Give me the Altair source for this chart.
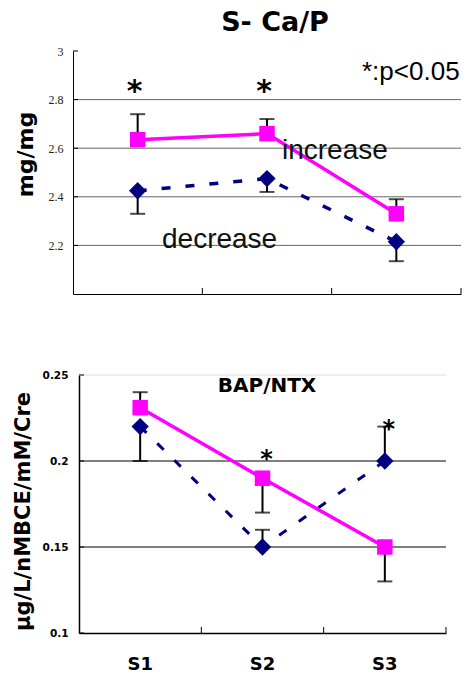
import altair as alt
import pandas as pd

# ---------------- data ----------------
categories = ["S1", "S2", "S3"]

# S- Ca/P (mg/mg)
ca_increase = [2.635, 2.66, 2.33]
ca_increase_err = [2.74, 2.72, 2.39]
ca_decrease = [2.425, 2.475, 2.215]
ca_decrease_err = [2.33, 2.42, 2.135]
ca_grid = [2.2, 2.4, 2.6, 2.8]
ca_ticks = [2.2, 2.4, 2.6, 2.8, 3.0]
ca_star_cats = ["S1", "S2"]
ca_star_y = [2.86, 2.86]

# BAP/NTX
bap_increase = [0.231, 0.19, 0.15]
bap_increase_err = [0.24, 0.17, 0.13]
bap_decrease = [0.22, 0.15, 0.20]
bap_decrease_err = [0.20, 0.16, 0.22]
bap_grid = [0.15, 0.2]
bap_top = [0.25]
bap_ticks = [0.1, 0.15, 0.2, 0.25]
bap_star_cats = ["S2", "S3"]
bap_star_y = [0.204, 0.2215]

title_top = ["S- Ca/P"]
ytitle_top = "mg/mg"
ytitle_bottom = "µg/L/nMBCE/mM/Cre"
note_sig = ["*:p<0.05"]
note_inc = ["increase"]
note_dec = ["decrease"]
note_bap = ["BAP/NTX"]

PINK = "#FF00FF"
NAVY = "#000080"

# ---------------- top panel ----------------
TW, TH = 388, 243
top_df = pd.DataFrame({"cat": categories, "inc": ca_increase, "inc_err": ca_increase_err,
                       "dec": ca_decrease, "dec_err": ca_decrease_err})
ytop = alt.Scale(domain=[2.0, 3.0], nice=False, zero=False)
xtop = alt.Scale(domain=categories, paddingInner=0, paddingOuter=0)
xenc_t = alt.X("cat:N", scale=xtop, axis=None)

t_grid = alt.Chart(pd.DataFrame({"v": ca_grid})).mark_rule(color="#666666", strokeWidth=1).encode(
    y=alt.Y("v:Q", scale=ytop, axis=alt.Axis(
        values=ca_ticks, format="~g", ticks=False, grid=False, domainColor="black", domainWidth=1,
        labelFont="Liberation Sans Narrow", labelFontSize=12, labelColor="#222", labelPadding=10,
        title=ytitle_top, titleFont="DejaVu Sans", titleFontSize=22, titleFontWeight="bold",
        titleAngle=270, titleAlign="center", titleBaseline="middle", titleX=-48, titleY=103,
        titleColor="black")),
    x=alt.value(0), x2=alt.value(TW))
t_yt = alt.Chart(pd.DataFrame({"v": ca_ticks})).mark_rule(color="black", strokeWidth=1).encode(
    y=alt.Y("v:Q", scale=ytop, axis=None), x=alt.value(0), x2=alt.value(5))
t_xt = alt.Chart(top_df).mark_rule(color="black", strokeWidth=1).encode(
    x=alt.X("cat:N", scale=xtop, bandPosition=1, axis=alt.Axis(
        labels=False, ticks=False, title=None, domainColor="black", domainWidth=1)),
    y=alt.value(TH - 6), y2=alt.value(TH))
t_err_i = alt.Chart(top_df).mark_rule(color="black", strokeWidth=2).encode(
    x=xenc_t, y=alt.Y("inc:Q", scale=ytop, axis=None), y2="inc_err:Q")
t_cap_i = alt.Chart(top_df).mark_tick(color="black", size=15, thickness=2).encode(
    x=xenc_t, y=alt.Y("inc_err:Q", scale=ytop, axis=None))
t_err_d = alt.Chart(top_df).mark_rule(color="black", strokeWidth=2).encode(
    x=xenc_t, y=alt.Y("dec:Q", scale=ytop, axis=None), y2="dec_err:Q")
t_cap_d = alt.Chart(top_df).mark_tick(color="black", size=15, thickness=2).encode(
    x=xenc_t, y=alt.Y("dec_err:Q", scale=ytop, axis=None))
t_line_d = alt.Chart(top_df).mark_line(color=NAVY, strokeWidth=3.5, strokeDash=[9, 15]).encode(
    x=xenc_t, y=alt.Y("dec:Q", scale=ytop, axis=None))
t_line_i = alt.Chart(top_df).mark_line(color=PINK, strokeWidth=3.5).encode(
    x=xenc_t, y=alt.Y("inc:Q", scale=ytop, axis=None))
t_pt_d = alt.Chart(top_df).mark_point(shape="diamond", filled=True, size=300, color=NAVY, opacity=1).encode(
    x=xenc_t, y=alt.Y("dec:Q", scale=ytop, axis=None))
t_pt_i = alt.Chart(top_df).mark_point(shape="square", filled=True, size=240, color=PINK, opacity=1).encode(
    x=xenc_t, y=alt.Y("inc:Q", scale=ytop, axis=None))
t_star = alt.Chart(pd.DataFrame({"cat": ca_star_cats, "y": ca_star_y})).mark_text(
    text="*", font="DejaVu Sans", fontSize=30, fontWeight="bold", color="black",
    baseline="alphabetic", dy=16, dx=-3).encode(x=xenc_t, y=alt.Y("y:Q", scale=ytop, axis=None))
t_sig = alt.Chart(pd.DataFrame({"t": note_sig})).mark_text(
    font="Liberation Sans", fontSize=26, align="left", baseline="alphabetic", color="black").encode(
    text="t:N", x=alt.value(289), y=alt.value(29))
t_inc = alt.Chart(pd.DataFrame({"t": note_inc})).mark_text(
    font="Liberation Sans", fontSize=28, align="left", baseline="alphabetic", color="#111").encode(
    text="t:N", x=alt.value(209), y=alt.value(108))
t_dec = alt.Chart(pd.DataFrame({"t": note_dec})).mark_text(
    font="Liberation Sans", fontSize=28, align="left", baseline="alphabetic", color="#111").encode(
    text="t:N", x=alt.value(89), y=alt.value(197))
t_title = alt.Chart(pd.DataFrame({"t": title_top})).mark_text(
    font="DejaVu Sans", fontSize=27, fontWeight="bold", align="center", baseline="alphabetic",
    color="black").encode(text="t:N", x=alt.value(202), y=alt.value(-20))

top = alt.layer(t_grid, t_yt, t_xt, t_err_i, t_cap_i, t_err_d, t_cap_d, t_line_d, t_line_i,
                t_pt_d, t_pt_i, t_star, t_sig, t_inc, t_dec, t_title).resolve_axis(
    x="independent", y="independent").properties(width=TW, height=TH)

# ---------------- bottom panel ----------------
BW, BH, SH = 373, 258, 6
bot_df = pd.DataFrame({"cat": categories, "inc": bap_increase, "inc_err": bap_increase_err,
                       "dec": bap_decrease, "dec_err": bap_decrease_err})
ybot = alt.Scale(domain=[0.1, 0.25], nice=False, zero=False)
xbot = alt.Scale(domain=categories, range=[SH, BW], paddingInner=0, paddingOuter=0)
xenc_b = alt.X("cat:N", scale=xbot, axis=None)

b_top = alt.Chart(pd.DataFrame({"v": bap_top})).mark_rule(color="#dddddd", strokeWidth=1).encode(
    y=alt.Y("v:Q", scale=ybot, axis=None), x=alt.value(SH), x2=alt.value(BW))
b_grid = alt.Chart(pd.DataFrame({"v": bap_grid})).mark_rule(color="black", strokeWidth=1).encode(
    y=alt.Y("v:Q", scale=ybot, axis=alt.Axis(
        values=bap_ticks, format="~g", ticks=False, grid=False, offset=-SH, domainColor="black",
        domainWidth=1.5,
        labelFont="DejaVu Sans", labelFontSize=10.5, labelFontWeight="bold", labelColor="black",
        labelPadding=11,
        title=ytitle_bottom, titleFont="DejaVu Sans", titleFontSize=21, titleFontWeight="bold",
        titleAngle=270, titleAlign="center", titleBaseline="middle", titleX=-56, titleY=136,
        titleColor="black")),
    x=alt.value(SH), x2=alt.value(BW))
b_yt = alt.Chart(pd.DataFrame({"v": bap_ticks})).mark_rule(color="black", strokeWidth=1).encode(
    y=alt.Y("v:Q", scale=ybot, axis=None), x=alt.value(SH), x2=alt.value(SH + 5))
b_xt = alt.Chart(bot_df).mark_rule(color="black", strokeWidth=1).encode(
    x=alt.X("cat:N", scale=xbot, bandPosition=1, axis=alt.Axis(
        ticks=False, title=None, domainColor="black", domainWidth=1.5, labelAngle=0,
        labelFont="DejaVu Sans", labelFontSize=18, labelFontWeight="bold", labelColor="black",
        labelPadding=22)),
    y=alt.value(BH - 6), y2=alt.value(BH))
b_err_i = alt.Chart(bot_df).mark_rule(color="black", strokeWidth=2).encode(
    x=xenc_b, y=alt.Y("inc:Q", scale=ybot, axis=None), y2="inc_err:Q")
b_cap_i = alt.Chart(bot_df).mark_tick(color="black", size=15, thickness=2).encode(
    x=xenc_b, y=alt.Y("inc_err:Q", scale=ybot, axis=None))
b_err_d = alt.Chart(bot_df).mark_rule(color="black", strokeWidth=2).encode(
    x=xenc_b, y=alt.Y("dec:Q", scale=ybot, axis=None), y2="dec_err:Q")
b_cap_d = alt.Chart(bot_df).mark_tick(color="black", size=15, thickness=2).encode(
    x=xenc_b, y=alt.Y("dec_err:Q", scale=ybot, axis=None))
b_line_d = alt.Chart(bot_df).mark_line(color=NAVY, strokeWidth=3, strokeDash=[9, 15]).encode(
    x=xenc_b, y=alt.Y("dec:Q", scale=ybot, axis=None))
b_line_i = alt.Chart(bot_df).mark_line(color=PINK, strokeWidth=3.5).encode(
    x=xenc_b, y=alt.Y("inc:Q", scale=ybot, axis=None))
b_pt_d = alt.Chart(bot_df).mark_point(shape="diamond", filled=True, size=300, color=NAVY, opacity=1).encode(
    x=xenc_b, y=alt.Y("dec:Q", scale=ybot, axis=None))
b_pt_i = alt.Chart(bot_df).mark_point(shape="square", filled=True, size=240, color=PINK, opacity=1).encode(
    x=xenc_b, y=alt.Y("inc:Q", scale=ybot, axis=None))
b_star = alt.Chart(pd.DataFrame({"cat": bap_star_cats, "y": bap_star_y})).mark_text(
    text="*", font="DejaVu Sans", fontSize=24, fontWeight="bold", color="black",
    baseline="alphabetic", dy=13, dx=4).encode(x=xenc_b, y=alt.Y("y:Q", scale=ybot, axis=None))
b_lab = alt.Chart(pd.DataFrame({"t": note_bap})).mark_text(
    font="DejaVu Sans", fontSize=20, fontWeight="bold", align="center", baseline="alphabetic",
    color="black").encode(text="t:N", x=alt.value(194), y=alt.value(17))

bottom = alt.layer(b_top, b_grid, b_yt, b_xt, b_err_i, b_cap_i, b_err_d, b_cap_d, b_line_d,
                   b_line_i, b_pt_d, b_pt_i, b_star, b_lab).resolve_axis(
    x="independent", y="independent").properties(width=BW, height=BH)

chart = alt.vconcat(top, bottom, spacing=81, bounds="flush").properties(
    padding={"left": 11, "top": 9, "right": 0, "bottom": 0}
).configure_view(stroke=None).configure_axis(grid=False)

chart.save("out.html", embed_options={"renderer": "svg", "actions": False})
